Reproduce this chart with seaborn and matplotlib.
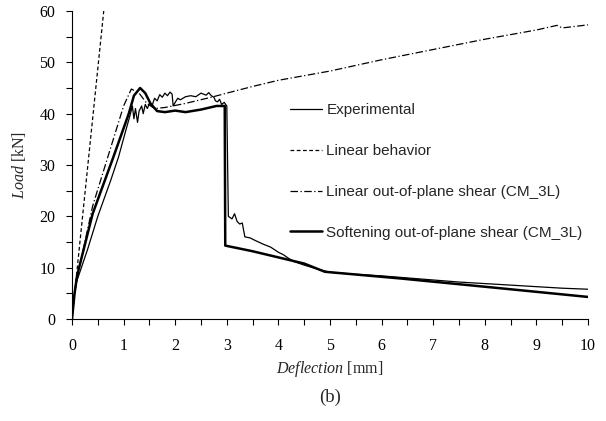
import numpy as np
import pandas as pd
import matplotlib
matplotlib.use("Agg")
import matplotlib.pyplot as plt
import seaborn as sns
from matplotlib.ticker import MultipleLocator

# ---- data ----
exp_x = [0, 0.03, 0.08, 0.3, 0.5, 0.75, 0.9, 1.05, 1.12, 1.17, 1.2, 1.23, 1.27, 1.3, 1.35,
         1.38, 1.42, 1.46, 1.5, 1.55, 1.6, 1.65, 1.7, 1.75, 1.8, 1.85, 1.9, 1.94, 1.96, 2.0,
         2.05, 2.1, 2.2, 2.3, 2.4, 2.5, 2.6, 2.65, 2.7, 2.75, 2.78, 2.82, 2.86, 2.9, 2.95, 3.0,
         3.03, 3.1, 3.15, 3.2, 3.25, 3.3, 3.35, 3.45, 3.55, 3.7, 3.85, 4.0, 4.1, 4.2, 4.3,
         4.5, 4.8, 5.0, 5.5, 6.0, 6.5, 7.0, 7.5, 8.0, 8.5, 9.0, 9.5, 10.0]
exp_y = [0, 4, 7, 13.5, 20, 27, 31.5, 37, 39.5, 41.5, 39, 41, 38.3, 40.5, 41.5,
         40, 41.8, 41, 42, 41.5, 43, 42.5, 43.7, 43.2, 44, 43.5, 44.2, 43.8, 41.5, 42.2,
         43, 42.7, 43.3, 43.5, 43.3, 44, 43.6, 44.1, 43.5, 43.2, 42.5, 42.3, 42.8, 41.8, 42.2, 41.5,
         20, 19.5, 20.5, 19, 18.5, 18.7, 16, 15.8, 15.3, 14.6, 14, 13, 12.5, 11.8, 11.2,
         10.5, 9.6, 9.1, 8.7, 8.4, 8.0, 7.6, 7.2, 6.9, 6.6, 6.3, 6.0, 5.8]

lin_x = [0, 0.615]
lin_y = [0, 60]

los_x = [0, 0.05, 0.1, 0.4, 0.8, 1.0, 1.15, 1.3, 1.45, 1.6, 1.8, 2.2, 2.7, 3.0, 3.5,
         4.0, 5.0, 6.0, 7.0, 8.0, 9.0, 9.4, 9.5, 10.0]
los_y = [0, 5, 8, 22, 35, 41.5, 44.8, 44, 42, 41, 41.2, 42, 43.2, 44, 45.3,
         46.5, 48.3, 50.5, 52.5, 54.5, 56.3, 57.2, 56.7, 57.3]

soft_x = [0, 0.05, 0.1, 0.4, 0.8, 1.1, 1.2, 1.32, 1.42, 1.52, 1.65, 1.8, 2.0, 2.2, 2.5,
          2.8, 2.96, 2.97, 3.5, 4.0, 4.5, 4.9, 6.36, 8.29, 10.0]
soft_y = [0, 5, 8.5, 20.5, 31.5, 40, 43.5, 45, 44, 42, 40.5, 40.3, 40.6, 40.3, 40.8,
          41.5, 41.5, 14.3, 13.2, 12.0, 10.8, 9.2, 7.9, 6.0, 4.3]

labels = ["Experimental", "Linear behavior",
          "Linear out-of-plane shear (CM_3L)",
          "Softening out-of-plane shear (CM_3L)"]

x_ticks = list(range(0, 11))
y_ticks = list(range(0, 61, 10))

# ---- plot ----
sns.set_theme(style="ticks")
plt.rcParams["font.family"] = ["Liberation Serif", "DejaVu Serif"]
plt.rcParams["mathtext.fontset"] = "custom"
plt.rcParams["mathtext.it"] = "Liberation Serif:italic"
plt.rcParams["mathtext.rm"] = "Liberation Serif"

fig = plt.figure(figsize=(6.06, 4.21), dpi=100)
ax = fig.add_axes([72 / 606, 1 - 319 / 421, (588 - 72) / 606, (319 - 11) / 421])

sns.lineplot(x=exp_x, y=exp_y, ax=ax, sort=False, color="black", lw=0.9,
             label=labels[0], estimator=None)
sns.lineplot(x=lin_x, y=lin_y, ax=ax, sort=False, color="black", lw=0.9,
             linestyle=(0, (3, 2)), label=labels[1], estimator=None)
sns.lineplot(x=los_x, y=los_y, ax=ax, sort=False, color="black", lw=0.9,
             linestyle=(0, (6, 2, 1, 2)), label=labels[2], estimator=None)
sns.lineplot(x=soft_x, y=soft_y, ax=ax, sort=False, color="black", lw=1.8,
             label=labels[3], estimator=None)

ax.set_xlim(0, 10)
ax.set_ylim(0, 60)
ax.set_xticks(x_ticks)
ax.set_yticks(y_ticks)
ax.xaxis.set_minor_locator(MultipleLocator(0.5))
ax.yaxis.set_minor_locator(MultipleLocator(5))
ax.tick_params(axis="both", which="both", direction="out", length=4, width=0.8,
               colors="black", labelsize=11.5)
ax.tick_params(axis="x", which="major", pad=9.5)
ax.tick_params(axis="y", which="major", pad=8)
sns.despine(ax=ax)
for s in ["left", "bottom"]:
    ax.spines[s].set_color("black")
    ax.spines[s].set_linewidth(0.8)

ax.set_xlabel(r"$Deflection$ [mm]", fontsize=11.5, labelpad=3.5)
ax.set_ylabel(r"$Load$ [kN]", fontsize=11.5, labelpad=8)

leg = ax.legend(loc="upper left", bbox_to_anchor=(0.422, 0.70), frameon=False,
                handlelength=2.1, handletextpad=0.3, labelspacing=1.75,
                borderpad=0, borderaxespad=0,
                prop={"family": "Liberation Sans", "size": 11})

fig.text(330 / 606, 1 - 397 / 421, "(b)", ha="center", va="center", fontsize=13.5)

fig.savefig("out.png", dpi=100)
